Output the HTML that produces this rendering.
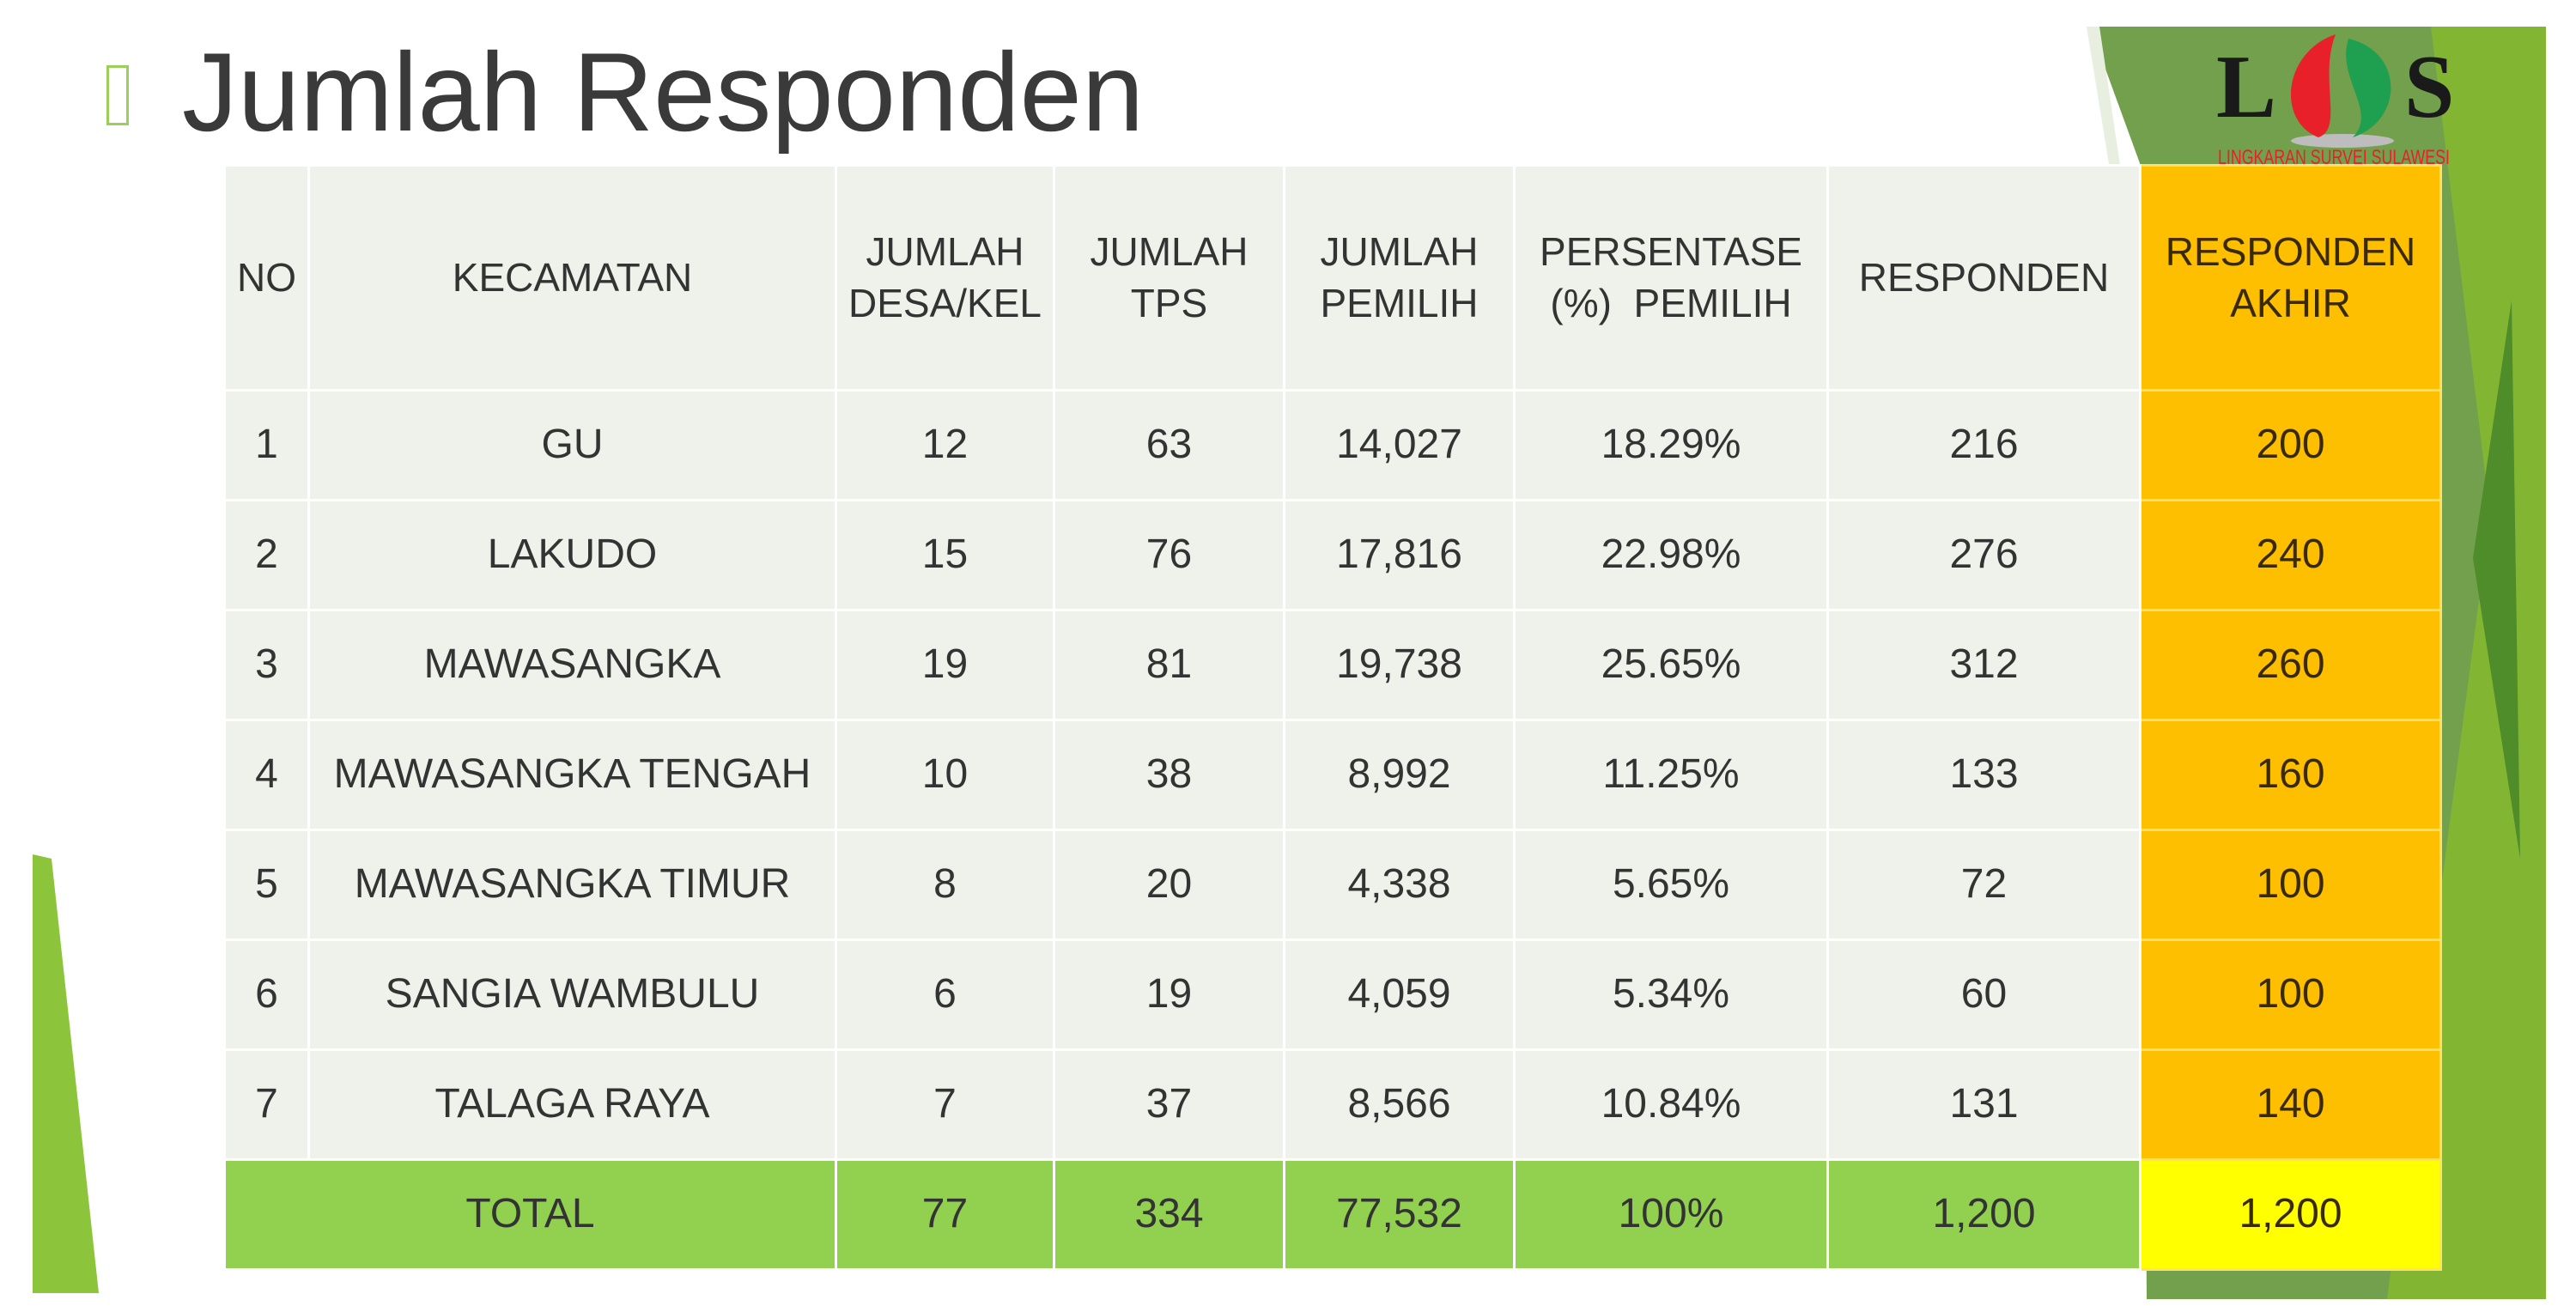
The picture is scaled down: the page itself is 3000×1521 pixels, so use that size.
<!DOCTYPE html>
<html><head><meta charset="utf-8"><style>
body{margin:0;width:3000px;height:1521px;background:#fff;position:relative;overflow:hidden;font-family:"Liberation Sans",sans-serif;}
.t{position:absolute;left:212px;top:42px;font-size:130px;color:#3a3a3a;line-height:1;}
.ic{position:absolute;left:124px;top:76px;width:26px;height:70px;border:3px solid #9ccf5a;box-sizing:border-box;}
table{position:absolute;left:260px;top:191px;border-collapse:collapse;table-layout:fixed;}
td{background:#eef2ea;border:3px solid #fff;text-align:center;color:#333;font-size:48px;padding:0;line-height:1.3;}
tr.h td{height:259px;font-size:46px;}
tr.r td{height:125px;}
td.o{background:#fdbf00;border-color:#fde070;color:#3a2a00;}
tr.tot td{background:#92d050;}
tr.tot td.y{background:#ffff00;}
</style></head><body>
<svg width="3000" height="1521" style="position:absolute;left:0;top:0">
<polygon points="2434,31 2965,31 2965,1513 2500,1513 2492,190" fill="#72a04c"/>
<polygon points="2831,31 2965,31 2965,1513 2780,1513 2900,600" fill="#82b632"/>
<polygon points="2880,650 2925,350 2935,1000" fill="#4f8c2a"/>
<polygon points="2430,31 2445,31 2500,400 2490,400" fill="#e8efe0"/>
<polygon points="38,995 60,1000 115,1506 38,1506" fill="#8cc43c"/>
<text x="2581" y="136" font-family="Liberation Serif" font-weight="bold" font-size="105" fill="#1a1a1a">L</text>
<text x="2800" y="136" font-family="Liberation Serif" font-weight="bold" font-size="105" fill="#1a1a1a">S</text>
<ellipse cx="2728" cy="164" rx="60" ry="8" fill="#bdbdbd"/>
<path d="M2720,40 C2660,60 2650,140 2700,160 C2730,150 2700,90 2720,40Z" fill="#e8202a"/>
<path d="M2735,45 C2800,60 2800,140 2740,160 C2770,130 2720,90 2735,45Z" fill="#1ea050"/>
<text x="2583" y="191" font-size="24" fill="#e8202a" textLength="270" lengthAdjust="spacingAndGlyphs">LINGKARAN SURVEI SULAWESI</text>
</svg>
<div class="ic"></div>
<div class="t">Jumlah Responden</div>
<table>
<colgroup><col style="width:98px"><col style="width:614px"><col style="width:254px"><col style="width:268px"><col style="width:268px"><col style="width:365px"><col style="width:364px"><col style="width:350px"></colgroup>
<tr class="h"><td>NO</td><td>KECAMATAN</td><td>JUMLAH<br>DESA/KEL</td><td>JUMLAH<br>TPS</td><td>JUMLAH<br>PEMILIH</td><td>PERSENTASE<br>(%)&nbsp; PEMILIH</td><td>RESPONDEN</td><td class="o">RESPONDEN<br>AKHIR</td></tr>
<tr class="r"><td>1</td><td>GU</td><td>12</td><td>63</td><td>14,027</td><td>18.29%</td><td>216</td><td class="o">200</td></tr>
<tr class="r"><td>2</td><td>LAKUDO</td><td>15</td><td>76</td><td>17,816</td><td>22.98%</td><td>276</td><td class="o">240</td></tr>
<tr class="r"><td>3</td><td>MAWASANGKA</td><td>19</td><td>81</td><td>19,738</td><td>25.65%</td><td>312</td><td class="o">260</td></tr>
<tr class="r"><td>4</td><td>MAWASANGKA TENGAH</td><td>10</td><td>38</td><td>8,992</td><td>11.25%</td><td>133</td><td class="o">160</td></tr>
<tr class="r"><td>5</td><td>MAWASANGKA TIMUR</td><td>8</td><td>20</td><td>4,338</td><td>5.65%</td><td>72</td><td class="o">100</td></tr>
<tr class="r"><td>6</td><td>SANGIA WAMBULU</td><td>6</td><td>19</td><td>4,059</td><td>5.34%</td><td>60</td><td class="o">100</td></tr>
<tr class="r"><td>7</td><td>TALAGA RAYA</td><td>7</td><td>37</td><td>8,566</td><td>10.84%</td><td>131</td><td class="o">140</td></tr>
<tr class="r tot"><td colspan="2">TOTAL</td><td>77</td><td>334</td><td>77,532</td><td>100%</td><td>1,200</td><td class="o y">1,200</td></tr>
</table>
</body></html>
